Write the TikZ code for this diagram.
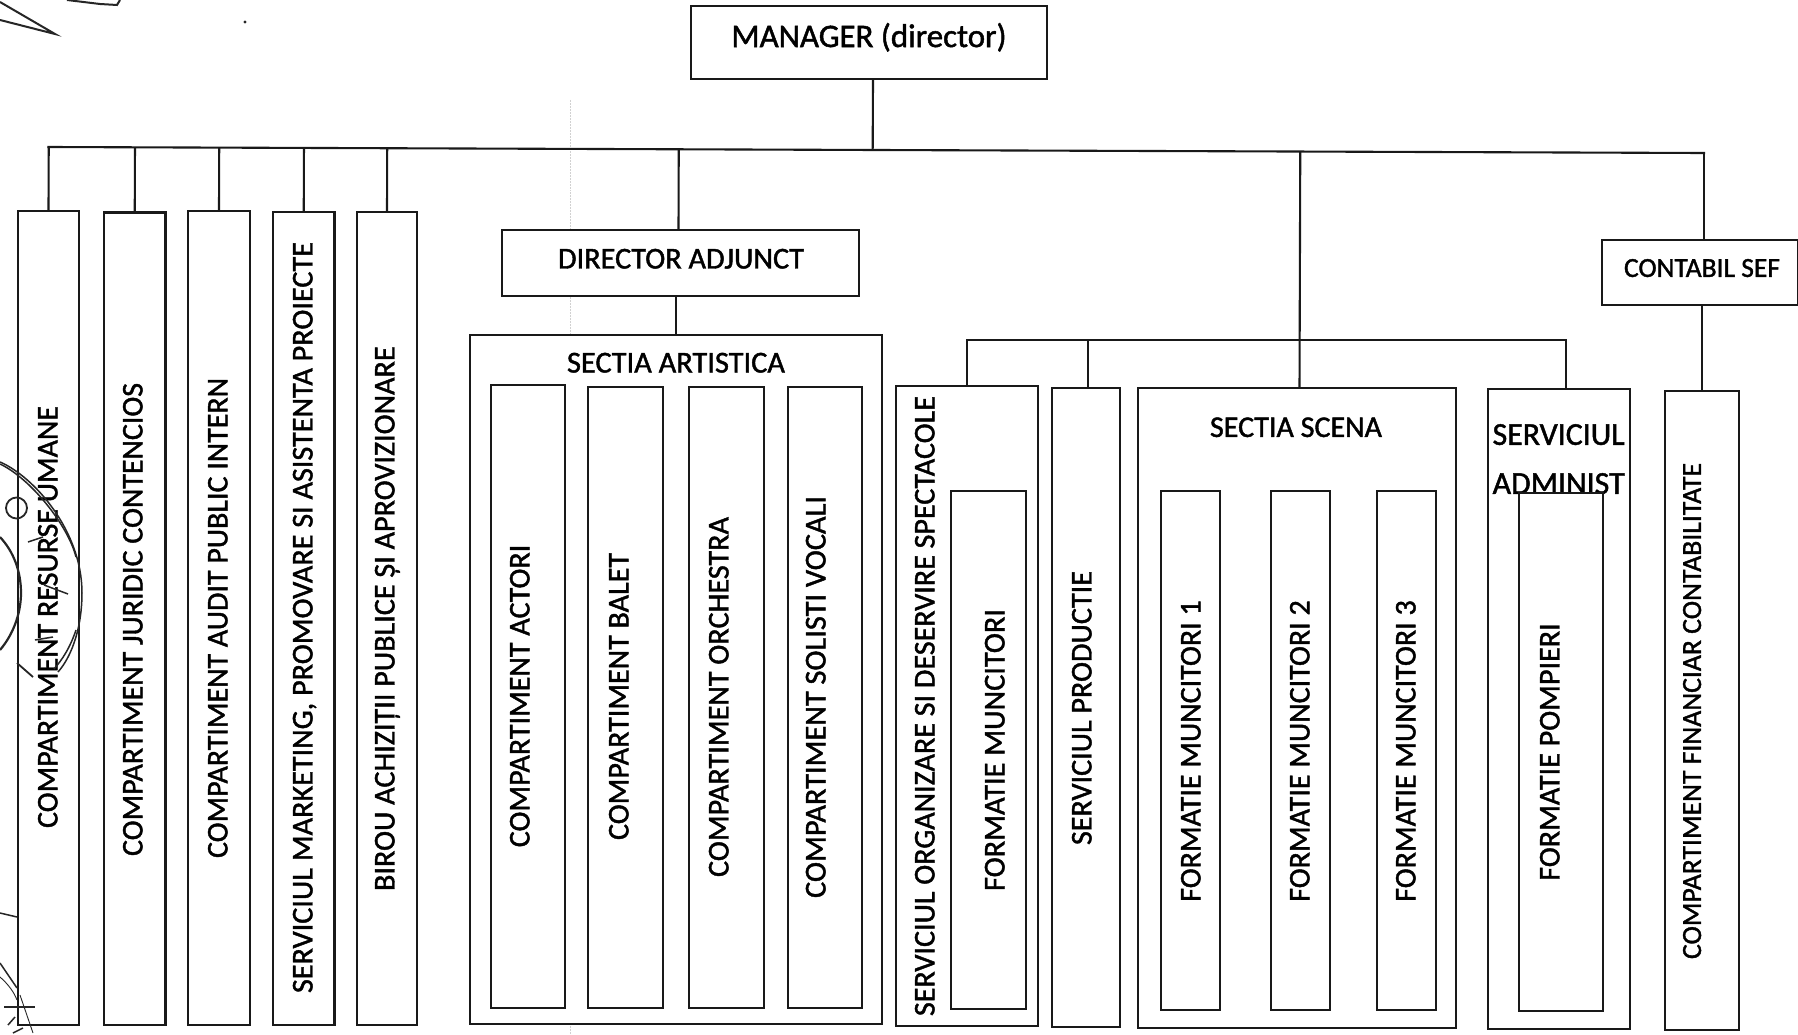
\documentclass[tikz,border=0pt]{standalone}
\usepackage{fontspec}
\usetikzlibrary{calc}
\setmainfont{Carlito}[AutoFakeBold=1.4]
\tikzset{
  bx/.style={draw=black!90,line width=2.1pt,fill=white,inner sep=0,outer sep=0,rectangle},
  conn/.style={draw=black!90,line width=2.1pt},
  lbl/.style={inner sep=0,outer sep=0,text=black,yshift=-3pt},
  vlbl/.style={inner sep=0,outer sep=0,text=black,rotate=90,yshift=-3pt},
  scan/.style={draw=black!85,line width=1.5pt},
}
\newcommand{\fitw}[2]{\resizebox{#1pt}{!}{\fontsize{28}{30}\bfseries\selectfont\strut #2}}
\begin{document}
\begin{tikzpicture}[x=1pt,y=-1pt]
\useasboundingbox[fill=white] (0,0) rectangle (1798,1035);
% faint scan line
\draw[black!18,line width=0.5pt,densely dotted] (570,100) -- (570,1035);
% boxes
\node[bx,minimum width=356pt,minimum height=73pt] (mgr) at (869,42.5) {};
\node[bx,minimum width=357pt,minimum height=66pt] (adj) at (680.5,263) {};
\node[bx,minimum width=196pt,minimum height=65pt] (ctb) at (1700,272.5) {};
\node[bx,minimum width=61pt,minimum height=814pt] (b1) at (48.5,618) {};
\node[bx,minimum width=61.5pt,minimum height=812.5pt] (b2) at (134.75,618.75) {};
\node[bx,minimum width=62pt,minimum height=814pt] (b3) at (219,618) {};
\node[bx,minimum width=61.5pt,minimum height=813pt] (b4) at (303.75,618.5) {};
\node[bx,minimum width=60pt,minimum height=813pt] (b5) at (387,618.5) {};
\node[bx,minimum width=412pt,minimum height=689pt] (sa) at (676,679.5) {};
\node[bx,minimum width=74pt,minimum height=623pt] (s1) at (528,696.5) {};
\node[bx,minimum width=75pt,minimum height=621pt] (s2) at (625.5,697.5) {};
\node[bx,minimum width=75pt,minimum height=621pt] (s3) at (726.5,697.5) {};
\node[bx,minimum width=74pt,minimum height=621pt] (s4) at (825,697.5) {};
\node[bx,minimum width=142pt,minimum height=640pt] (org) at (967,706) {};
\node[bx,minimum width=75pt,minimum height=518pt] (fm) at (988.5,750) {};
\node[bx,minimum width=68pt,minimum height=639pt] (prod) at (1086,707.5) {};
\node[bx,minimum width=318pt,minimum height=640pt] (sc) at (1297,708) {};
\node[bx,minimum width=59pt,minimum height=519pt] (f1) at (1190.5,750.5) {};
\node[bx,minimum width=59pt,minimum height=519pt] (f2) at (1300.5,750.5) {};
\node[bx,minimum width=59pt,minimum height=519pt] (f3) at (1406.5,750.5) {};
\node[bx,minimum width=142pt,minimum height=640pt] (adm) at (1559,709) {};
\node[bx,minimum width=74pt,minimum height=639pt] (fin) at (1702,710.5) {};
% texts
\node[lbl] (tmgr) at (869,37) {\fitw{275}{MANAGER (director)}};
\node[lbl] (tadj) at (681,259) {\fitw{246}{DIRECTOR ADJUNCT}};
\node[lbl] (tctb) at (1702,268) {\fitw{156}{CONTABIL SEF}};
\node[lbl] (tsa) at (676,363) {\fitw{218}{SECTIA ARTISTICA}};
\node[lbl] (tsc) at (1296,427.5) {\fitw{172}{SECTIA SCENA}};
\node[lbl] (tad1) at (1558.6,435) {\fitw{132}{SERVICIUL}};
\node[lbl] (tad2) at (1558.6,484) {\fitw{132}{ADMINIST}};
\node[bx,minimum width=84pt,minimum height=518pt] (fp) at (1561,752) {};
\node[vlbl] (t1) at (48,617) {\fitw{422}{COMPARTIMENT RESURSE UMANE}};
\node[vlbl] (t2) at (133,619.5) {\fitw{473}{COMPARTIMENT JURIDIC CONTENCIOS}};
\node[vlbl] (t3) at (218,618) {\fitw{480}{COMPARTIMENT AUDIT PUBLIC INTERN}};
\node[vlbl] (t4) at (303,617.5) {\fitw{751}{SERVICIUL MARKETING, PROMOVARE SI ASISTENTA PROIECTE}};
\node[vlbl] (t5) at (385,618.7) {\fitw{544.5}{BIROU ACHIZIȚII PUBLICE ȘI APROVIZIONARE}};
\node[vlbl] (t6) at (520,696) {\fitw{302.5}{COMPARTIMENT ACTORI}};
\node[vlbl] (t7) at (619,696.5) {\fitw{287}{COMPARTIMENT BALET}};
\node[vlbl] (t8) at (719,697) {\fitw{360}{COMPARTIMENT ORCHESTRA}};
\node[vlbl] (t9) at (816,697) {\fitw{402}{COMPARTIMENT SOLISTI VOCALI}};
\node[vlbl] (t10) at (925,706) {\fitw{620}{SERVICIUL ORGANIZARE SI DESERVIRE SPECTACOLE}};
\node[vlbl] (t11) at (995,750) {\fitw{282}{FORMATIE MUNCITORI}};
\node[vlbl] (t12) at (1082,708) {\fitw{274}{SERVICIUL PRODUCTIE}};
\node[vlbl] (t13) at (1191,751) {\fitw{301.5}{FORMATIE MUNCITORI 1}};
\node[vlbl] (t14) at (1300,751) {\fitw{301.5}{FORMATIE MUNCITORI 2}};
\node[vlbl] (t15) at (1406,751) {\fitw{301.5}{FORMATIE MUNCITORI 3}};
\node[vlbl] (t16) at (1550,752) {\fitw{257.5}{FORMATIE POMPIERI}};
\node[vlbl] (t17) at (1692,711) {\fitw{496}{COMPARTIMENT FINANCIAR CONTABILITATE}};
% connectors
\coordinate (busL) at (48.5,147);
\coordinate (busR) at (1704,153);
\coordinate (busT) at (967,340);
\coordinate (busU) at (1566,340);
\draw[conn,line cap=rect] (busL) -- (busR);
\draw[conn] ([xshift=4pt]mgr.south) -- ($(busL)!([xshift=4pt]mgr.south)!(busR)$);
\foreach \n in {b1,b2,b3,b4,b5}{
  \draw[conn] (\n.north) -- ($(busL)!(\n.north)!(busR)$);
}
\draw[conn] ([xshift=-2pt]adj.north) -- ($(busL)!([xshift=-2pt]adj.north)!(busR)$);
\draw[conn] (sa.north) -- (sa.north |- adj.south);
\draw[conn] ([xshift=2.5pt]sc.north) -- ($(busL)!([xshift=2.5pt]sc.north)!(busR)$);
\draw[conn] ([xshift=4pt]ctb.north) -- (busR);
\draw[conn] (fin.north) -- (fin.north |- ctb.south);
\draw[conn] (org.north) -- (busT) -- (busU) -- ([xshift=7pt]adm.north);
\draw[conn] ([xshift=2pt]prod.north) -- ([xshift=2pt]prod.north |- busT);
% stamp and pen marks from the scan
\draw[scan] (0,462) .. controls (33,476) and (82,530) .. (82,593) .. controls (82,625) and (73,655) .. (58,672);
\draw[scan] (0,464) .. controls (30,478) and (68,525) .. (76,557);
\draw[scan] (76,630) .. controls (70,648) and (62,660) .. (54,669);
\draw[scan,line width=2.2pt] (0,537) .. controls (14,552) and (21,572) .. (21,593) .. controls (21,615) and (12,636) .. (0,650);
\draw[scan,line width=1.8pt] (16.5,508) ellipse (10.5pt and 10.5pt);
\draw[scan,line width=1.8pt] (17,663) -- (33,677);
\draw[scan] (28,542) -- (43,537);
\draw[scan] (35,640) -- (53,637);
\draw[scan] (44,585) -- (68,594);
\draw[scan,line width=2pt] (0,2) -- (55,34) -- (0,20);
\draw[scan,line width=2pt] (67,0) -- (100,4) -- (117,5) -- (120,0);
\draw[scan] (0,913) -- (17,917);
\draw[scan] (0,963) -- (17,988);
\draw[scan,line width=0.9pt] (0,977) .. controls (8,984) and (14,992) .. (17,1000);
\draw[scan,line width=2.4pt] (4,1007) -- (35,1007);
\draw[scan,line width=0.9pt] (20,995) -- (33,1033);
\draw[scan] (15,1017) -- (8,1025);
\draw[scan] (13,1033) -- (23,1028);
\fill[black!85] (245,22) circle (1.6pt);
\end{tikzpicture}
\end{document}
